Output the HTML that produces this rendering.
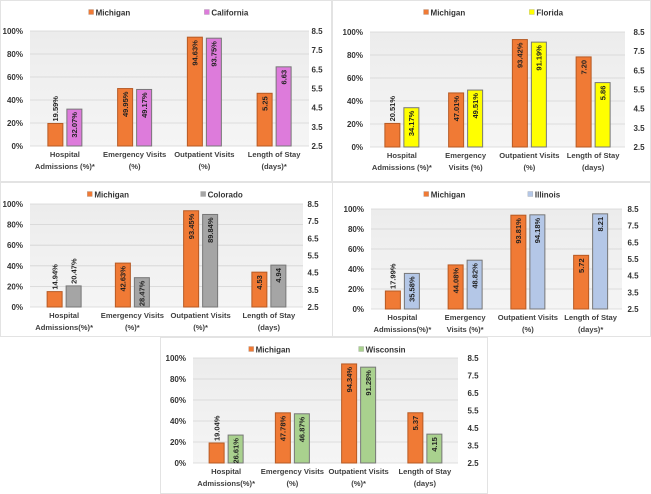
<!DOCTYPE html>
<html><head><meta charset="utf-8">
<style>
html,body{margin:0;padding:0;background:#fff;}
svg{display:block;font-family:"Liberation Sans",sans-serif;font-weight:bold;}
</style></head>
<body>
<svg id="chart" width="651" height="494" viewBox="0 0 651 494" xmlns="http://www.w3.org/2000/svg"></svg>
<script>
const leftTicks = ["0%","20%","40%","60%","80%","100%"];
const rightTicks = ["2.5","3.5","4.5","5.5","6.5","7.5","8.5"];
const seriesBase = "Michigan";
const compNames = ["California","Florida","Colorado","Illinois","Wisconsin"];
const compColors = ["#dd7bdb","#ffff00","#a5a5a5","#b4c7e7","#a9d18e"];
const cats1 = [["Hospital","Admissions (%)*"],["Emergency Visits","(%)"],["Outpatient Visits","(%)"],["Length of Stay","(days)*"]];
const cats2 = [["Hospital","Admissions (%)*"],["Emergency","Visits (%)"],["Outpatient Visits","(%)"],["Length of Stay","(days)"]];
const cats3 = [["Hospital","Admissions(%)*"],["Emergency Visits","(%)*"],["Outpatient Visits","(%)*"],["Length of Stay","(days)"]];
const cats4 = [["Hospital","Admissions(%)*"],["Emergency","Visits (%)*"],["Outpatient Visits","(%)"],["Length of Stay","(days)*"]];
const cats5 = [["Hospital","Admissions(%)*"],["Emergency Visits","(%)"],["Outpatient Visits","(%)*"],["Length of Stay","(days)"]];
const mich1 = [19.59,49.95,94.63,5.25];
const comp1 = [32.07,49.17,93.75,6.63];
const mich2 = [20.51,47.01,93.42,7.20];
const comp2 = [34.17,49.51,91.19,5.86];
const mich3 = [14.94,42.63,93.45,4.53];
const comp3 = [20.47,28.47,89.84,4.94];
const mich4 = [17.99,44.08,93.81,5.72];
const comp4 = [35.58,48.82,94.18,8.21];
const mich5 = [19.04,47.78,94.34,5.37];
const comp5 = [26.61,46.87,91.28,4.15];

const NS="http://www.w3.org/2000/svg";
const svg=document.getElementById('chart');
function mk(tag,attrs,parent){const e=document.createElementNS(NS,tag);for(const k in attrs)e.setAttribute(k,attrs[k]);(parent||svg).appendChild(e);return e;}

const panels=[
 {px:0,py:0,pw:332,ph:182,x0:30,x1:309,y0:31,y1:146,rx:317,cats:cats1,m:mich1,c:comp1},
 {px:332,py:0,pw:319,ph:182,x0:370,x1:625,y0:32,y1:147,rx:639,cats:cats2,m:mich2,c:comp2},
 {px:0,py:182,pw:333,ph:155,x0:30,x1:303,y0:204,y1:307,rx:313,cats:cats3,m:mich3,c:comp3},
 {px:332,py:182,pw:319,ph:155,x0:371,x1:622,y0:209,y1:309,rx:633,cats:cats4,m:mich4,c:comp4},
 {px:160,py:337,pw:328,ph:157,x0:193,x1:458,y0:358,y1:463,rx:473,cats:cats5,m:mich5,c:comp5}
];
const defs=mk('defs',{});
const lg=mk('linearGradient',{id:'bg',x1:0,y1:0,x2:0,y2:1},defs);
mk('stop',{offset:'0','stop-color':'#ececec'},lg);mk('stop',{offset:'1','stop-color':'#f5f5f5'},lg);

panels.forEach((P,pi)=>{
  const g=mk('g',{});
  
  
  const border=mk('rect',{x:P.px+0.5,y:P.py+0.5,width:P.pw-1,height:P.ph-1,fill:'#fff',stroke:'#e3e3e3'},g);
  
  
  const plot=mk('rect',{x:P.x0,y:P.y0,width:P.x1-P.x0,height:P.y1-P.y0,fill:'url(#bg)'},g);
  
  
  const yL=v=>P.y1-(v/100)*(P.y1-P.y0);
  const yR=v=>P.y1-((v-2.5)/6)*(P.y1-P.y0);
  leftTicks.forEach((t,i)=>{
    const y=P.y1-i*(P.y1-P.y0)/(leftTicks.length-1);
    const gl=mk('line',{x1:P.x0,x2:P.x1,y1:y,y2:y,stroke:'#d4d4d4','stroke-width':0.8},g);
    
    
    const tx=mk('text',{x:P.x0-7,y:y+3,'font-size':8,'text-anchor':'end',fill:'#333'},g);
    tx.textContent=t;
    
    
  });
  rightTicks.forEach((t,i)=>{
    const y=P.y1-i*(P.y1-P.y0)/(rightTicks.length-1);
    const tx=mk('text',{x:P.rx,y:y+3,'font-size':8,'text-anchor':'middle',fill:'#333'},g);
    tx.textContent=t;
    
    
  });
  const n=P.cats.length, cw=(P.x1-P.x0)/n, bw=15, gap=2;
  P.cats.forEach((cat,i)=>{
    const cx=P.x0+cw*(i+0.5);
    [[P.m[i],'#f07a35','#b65a24',cx-gap-bw],[P.c[i],compColors[pi],'#777',cx+gap]].forEach((s,si)=>{
      const v=s[0], isDays=(i===n-1);
      const yt=isDays?yR(v):yL(v);
      const b=mk('rect',{x:s[3],y:yt,width:bw,height:P.y1-yt,fill:s[1],stroke:s[2],'stroke-width':1},g);
      
      
      const h=P.y1-yt;
      const lab=isDays?v.toFixed(2):v.toFixed(2)+'%';
      const lx=s[3]+bw/2+2.7;
      let ly, anchor;
      if(h<27){ly=yt-2;anchor='start';}else{ly=yt+3;anchor='end';}
      const t=mk('text',{x:lx,y:ly,'font-size':7.5,'text-anchor':anchor,fill:'#222',transform:`rotate(-90 ${lx} ${ly})`},g);
      t.textContent=lab;
      
      
    });
    cat.forEach((line,li)=>{
      const t=mk('text',{x:cx,y:P.y1+11+li*12,'font-size':7.6,'text-anchor':'middle',fill:'#404040'},g);
      t.textContent=line;
      
      
    });
  });
  const ly=P.py+13;
  [[seriesBase,'#f07a35',P.x0+0.21*(P.x1-P.x0)],[compNames[pi],compColors[pi],P.x0+0.625*(P.x1-P.x0)]].forEach(L=>{
    const sw=mk('rect',{x:L[2],y:ly-3.5,width:5,height:5,fill:L[1],stroke:'#999','stroke-width':0.3},g);
    
    
    const t=mk('text',{x:L[2]+7,y:ly+2.5,'font-size':8,fill:'#333'},g);
    t.textContent=L[0];
    
    
  });
});
</script>
</body></html>
